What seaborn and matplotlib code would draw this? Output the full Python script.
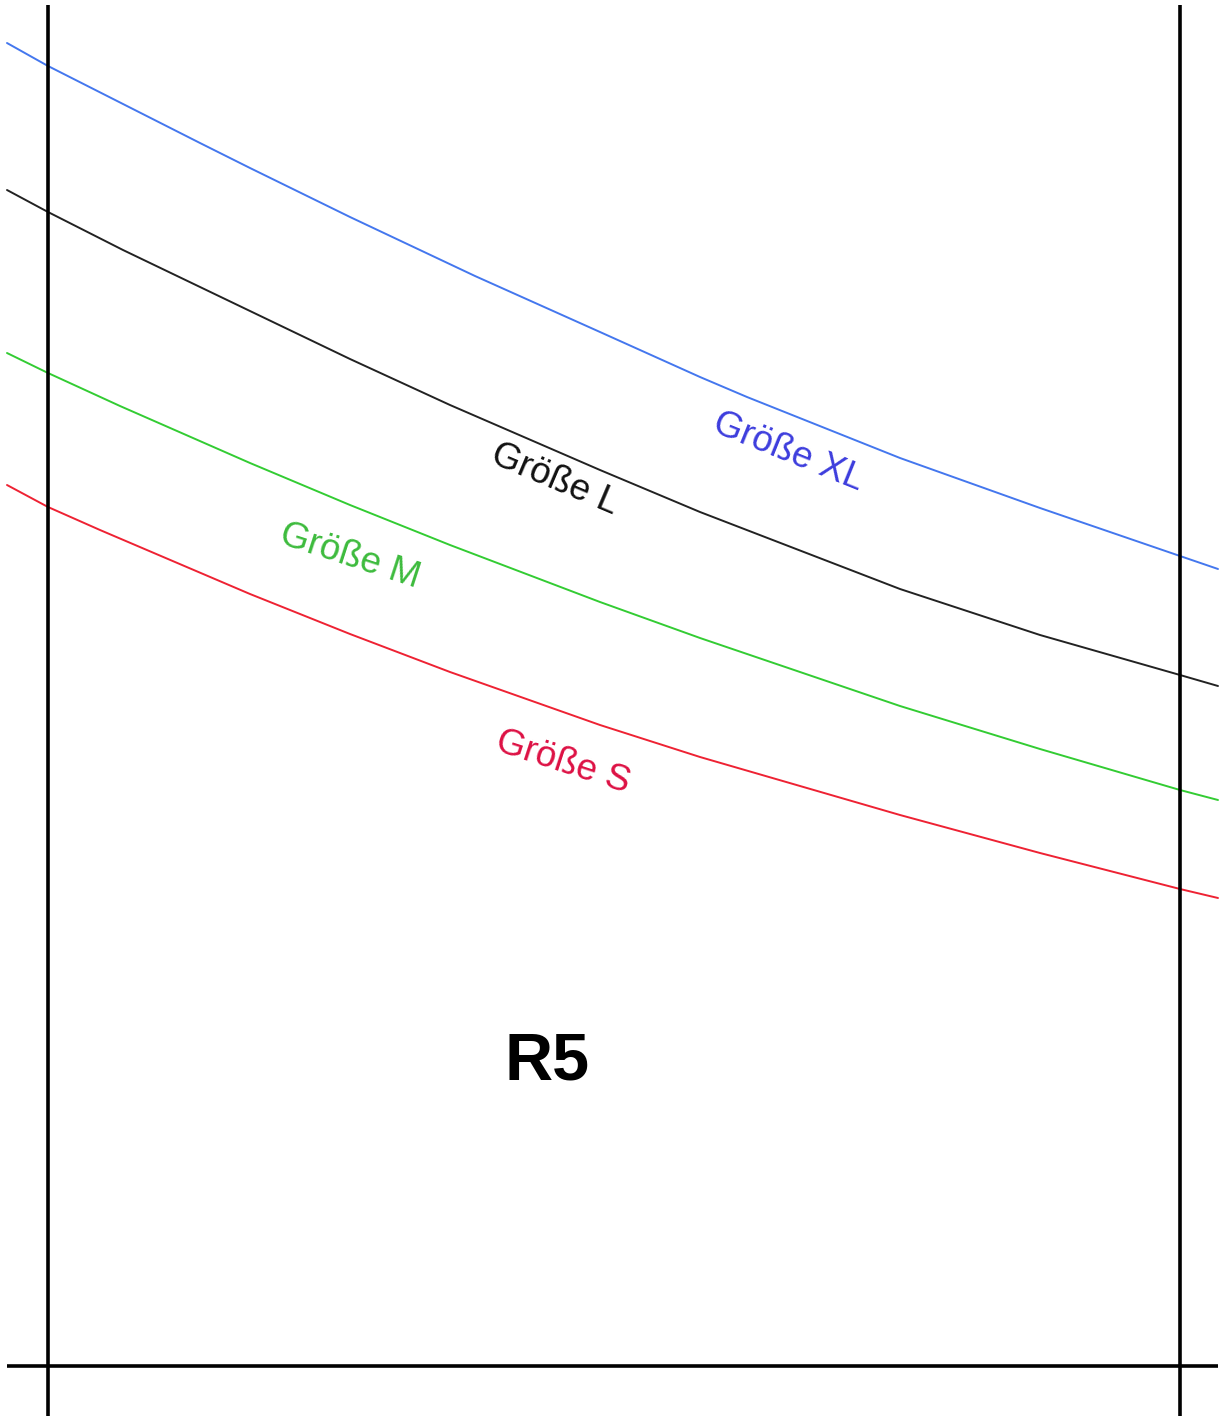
import numpy as np
import pandas as pd
import matplotlib.pyplot as plt
import seaborn as sns

# curve points (pixel space, y grows downward)
xl_x = [7, 48, 200, 250, 350, 475, 600, 700, 747, 900, 1040, 1180, 1218]
xl_y = [43, 66, 143, 168, 217, 276, 332, 377, 397, 458, 508, 556, 569]

l_x = [7, 48, 123, 250, 350, 450, 600, 700, 900, 1040, 1180, 1218]
l_y = [190, 212, 250, 311, 359, 405, 470, 512, 589, 635, 675, 686]

m_x = [7, 48, 120, 250, 350, 450, 600, 700, 900, 1040, 1180, 1218]
m_y = [353, 373, 406, 463, 505, 545, 602, 638, 706, 749, 790, 800]

s_x = [7, 48, 100, 250, 350, 450, 600, 700, 900, 1040, 1180, 1218]
s_y = [485, 507, 530, 594, 634, 672, 725, 757, 815, 853, 889, 898]

sizes = ["XL", "L", "M", "S"]
line_colors = ["#4477ee", "#222222", "#33cc33", "#ee2233"]
text_colors = ["#3d3ddd", "#111111", "#3dbb3d", "#dd1144"]
piece_name = "R5"

W, H = 1224, 1416


def curves_df():
    parts = []
    for name, xs, ys in zip(sizes, [xl_x, l_x, m_x, s_x], [xl_y, l_y, m_y, s_y]):
        parts.append(pd.DataFrame({"x": xs, "y": ys, "size": name}))
    return pd.concat(parts, ignore_index=True)


def main():
    sns.set_theme(style="white")
    plt.rcParams["font.family"] = ["Liberation Sans", "DejaVu Sans"]

    fig = plt.figure(figsize=(W / 100, H / 100), dpi=100)
    ax = fig.add_axes([0, 0, 1, 1])

    df = curves_df()
    sns.lineplot(
        data=df, x="x", y="y", hue="size", hue_order=sizes,
        palette=dict(zip(sizes, line_colors)),
        sort=False, estimator=None, legend=False, linewidth=1.4, ax=ax,
    )

    # frame of the pattern piece
    ax.vlines([47.5, 1180], 5, H, color="black", lw=2.6)
    ax.hlines(1366, 7, 1218, color="black", lw=2.6)

    # size labels along the curves: (x, y, angle)
    label_pos = {
        "XL": (788, 452, -22),
        "L": (555, 480, -23),
        "M": (350, 556, -18),
        "S": (563, 762, -18),
    }
    for name, col in zip(sizes, text_colors):
        x, y, rot = label_pos[name]
        ax.text(x, y, f"Größe {name}", color=col, fontsize=26.5,
                rotation=rot, rotation_mode="anchor", ha="center", va="center")

    ax.text(547, 1062, piece_name, fontsize=48, fontweight="bold",
            ha="center", va="center", color="black")

    ax.set_xlim(0, W)
    ax.set_ylim(H, 0)
    ax.axis("off")
    fig.savefig("out.png", dpi=100, facecolor="white")


if __name__ == "__main__":
    main()
